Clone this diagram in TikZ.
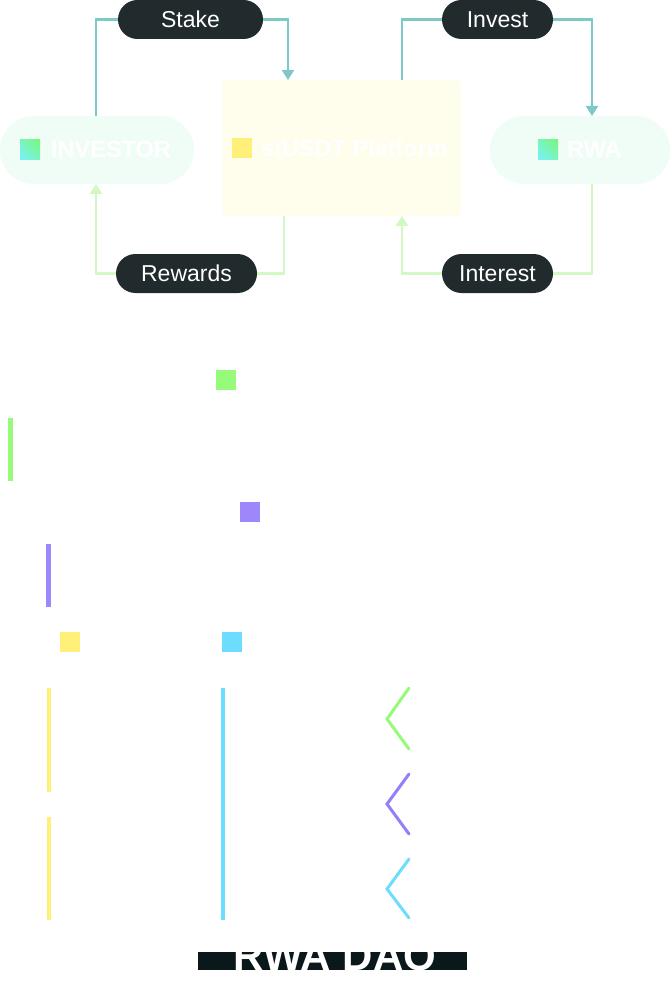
\documentclass[tikz,border=0pt]{standalone}
\usepackage{fontspec}
\setmainfont{Liberation Sans}
\usetikzlibrary{arrows.meta,shadings}
\definecolor{pilldark}{HTML}{212B2E}
\definecolor{tealline}{HTML}{7FC8C8}
\definecolor{greenline}{HTML}{D3F8C4}
\definecolor{mintfill}{HTML}{F0FDF7}
\definecolor{creamfill}{HTML}{FFFDEB}
\definecolor{iconyellow}{HTML}{FFF07A}
\definecolor{icongreen}{HTML}{96FA7A}
\definecolor{iconpurple}{HTML}{9E87FA}
\definecolor{iconcyan}{HTML}{6CDCFF}
\definecolor{chevpurple}{HTML}{9080FA}
\definecolor{gradgreen}{HTML}{78F87A}
\definecolor{gradcyan}{HTML}{7AF0FF}
\definecolor{gradmid}{HTML}{79F4BD}
\definecolor{daobar}{HTML}{0B181B}
\tikzset{
  labelpill/.style={rectangle, rounded corners=19.5pt, fill=pilldark, text=white,
    minimum height=39pt, inner sep=0pt, font=\fontsize{23}{25}\selectfont},
  bigpill/.style={rectangle, rounded corners=34pt, fill=mintfill,
    minimum height=68pt, inner sep=0pt},
  boldlabel/.style={text=white, inner sep=0pt, font=\fontsize{23.5}{26}\selectfont\bfseries},
  tealconn/.style={draw=tealline, line width=2.2pt},
  greenconn/.style={draw=greenline, line width=2.2pt},
  tipconn/.style={-{Triangle[width=12pt,length=10pt]}},
  chev/.style={line width=3pt, line cap=round, line join=miter},
  gradicon/.style={upper right=gradgreen, lower left=gradcyan, upper left=gradmid,
    lower right=gradmid},
}
\begin{document}
\begin{tikzpicture}[x=1pt,y=-1pt]
\useasboundingbox (0,0) rectangle (670,984);
\fill[white] (0,0) rectangle (670,984);

% main nodes
\node[bigpill, minimum width=194pt] (inv) at (97,150) {};
\node[rectangle, rounded corners=5pt, fill=creamfill, minimum width=239pt,
      minimum height=136pt, inner sep=0pt] (plat) at (341.5,148) {};
\node[bigpill, minimum width=180pt] (rwa) at (580,150) {};

% icons and titles
\shade[gradicon] (20,140) rectangle (40,160);
\node[boldlabel, anchor=base west] (invtext) at (51,158) {INVESTOR};
\fill[iconyellow] (232,138) rectangle (252,158);
\node[boldlabel, anchor=base west] (plattext) at (261,157) {stUSDT Platform};
\shade[gradicon] (538,140) rectangle (558,160);
\node[boldlabel, anchor=base west] (rwatext) at (567,158) {RWA};

% label pills
\node[labelpill, minimum width=145pt] (stake) at (190.5,19.5) {Stake};
\node[labelpill, minimum width=111pt] (invest) at (497.5,19.5) {Invest};
\node[labelpill, minimum width=141pt] (rewards) at (186.5,273.5) {Rewards};
\node[labelpill, minimum width=111pt] (interest) at (497.5,273.5) {Interest};

% connector end points
\coordinate (platin1) at (288,80);
\coordinate (platout1) at (402,80);
\coordinate (rwain) at (592,116);
\coordinate (rwaout) at (592,184);
\coordinate (platin2) at (402,216);
\coordinate (platout2) at (284,216);
\coordinate (invout) at (96,116);
\coordinate (invin) at (96,184);

% connectors
\draw[tealconn] (invout) |- (stake.west);
\draw[tealconn, tipconn] (stake.east) -| (platin1);
\draw[tealconn] (platout1) |- (invest.west);
\draw[tealconn, tipconn] (invest.east) -| (rwain);
\draw[greenconn] (rwaout) |- (interest.east);
\draw[greenconn, tipconn] (interest.west) -| (platin2);
\draw[greenconn] (platout2) |- (rewards.east);
\draw[greenconn, tipconn] (rewards.west) -| (invin);

% lower decorative shapes
\fill[icongreen] (216,370) rectangle (236,390);
\fill[icongreen] (8,418) rectangle (13,481);
\fill[iconpurple] (240,502) rectangle (260,522);
\fill[iconpurple] (46,544) rectangle (51,607);
\fill[iconyellow] (60,632) rectangle (80,652);
\fill[iconcyan] (222,632) rectangle (242,652);
\fill[iconyellow] (46.5,688) rectangle (50.5,792);
\fill[iconyellow] (46.5,817) rectangle (50.5,920);
\fill[iconcyan] (220.5,688) rectangle (224.5,920);
\draw[chev, draw=icongreen] (409,688) -- (387,719) -- (409,749);
\draw[chev, draw=chevpurple] (409,774) -- (387,804) -- (409,834);
\draw[chev, draw=iconcyan] (409,859) -- (387,889) -- (409,918);

% RWA DAO
\fill[daobar] (198,952) rectangle (467,970);
\node[text=white, inner sep=0pt, anchor=base, font=\fontsize{42}{46}\selectfont\bfseries] (dao) at (335,970) {RWA DAO};
\end{tikzpicture}
\end{document}
